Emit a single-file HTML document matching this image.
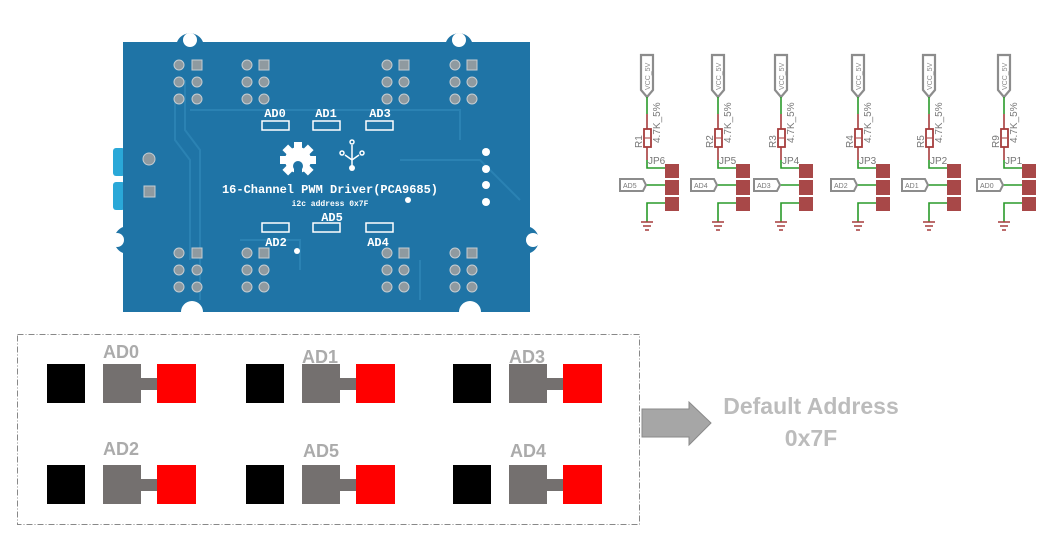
<!DOCTYPE html>
<html><head><meta charset="utf-8"><style>
html,body{margin:0;padding:0;background:#fff;}
body{width:1050px;height:538px;position:relative;overflow:hidden;font-family:"Liberation Sans",sans-serif;}
</style></head><body>
<svg width="1050" height="538" viewBox="0 0 1050 538" xmlns="http://www.w3.org/2000/svg" style="position:absolute;left:0;top:0">
<!-- PCB -->
<g>
  <rect x="113" y="148" width="12" height="28" rx="3" fill="#2aa8d8"/>
  <rect x="113" y="182" width="12" height="28" rx="3" fill="#2aa8d8"/>
  <path d="M123,42 H177 A14,14 0 0 1 203,42 H446 A14,14 0 0 1 472,42 H530 V227 A14,14 0 0 1 530,253 V312 H481 A11,11 0 0 0 459,312 H203 A11,11 0 0 0 181,312 H123 V253 A14,14 0 0 1 123,227 Z" fill="#1f74a6"/>
  <circle cx="190" cy="40" r="7" fill="#fff"/><circle cx="459" cy="40" r="7" fill="#fff"/>
  <circle cx="117" cy="240" r="7" fill="#fff"/><circle cx="533" cy="240" r="7" fill="#fff"/>
  <g fill="none" stroke="#2b82b3" stroke-width="2">
    <path d="M185,80 V130 L200,150 V300"/><path d="M190,110 H460 V140"/><path d="M175,100 V140 L190,160 V260"/>
    <path d="M400,160 H480 L520,200"/><path d="M240,240 H300 V270"/><path d="M420,260 V300"/>
  </g>
  <g fill="#8f9aa0" stroke="#c5cdd2" stroke-width="1">
    <circle cx="179" cy="65" r="5"/><rect x="192" y="60" width="10" height="10"/><circle cx="179" cy="82" r="5"/><circle cx="197" cy="82" r="5"/><circle cx="179" cy="99" r="5"/><circle cx="197" cy="99" r="5"/>
    <circle cx="247" cy="65" r="5"/><rect x="259" y="60" width="10" height="10"/><circle cx="247" cy="82" r="5"/><circle cx="264" cy="82" r="5"/><circle cx="247" cy="99" r="5"/><circle cx="264" cy="99" r="5"/>
    <circle cx="387" cy="65" r="5"/><rect x="399" y="60" width="10" height="10"/><circle cx="387" cy="82" r="5"/><circle cx="404" cy="82" r="5"/><circle cx="387" cy="99" r="5"/><circle cx="404" cy="99" r="5"/>
    <circle cx="455" cy="65" r="5"/><rect x="467" y="60" width="10" height="10"/><circle cx="455" cy="82" r="5"/><circle cx="472" cy="82" r="5"/><circle cx="455" cy="99" r="5"/><circle cx="472" cy="99" r="5"/>
    <circle cx="179" cy="253" r="5"/><rect x="192" y="248" width="10" height="10"/><circle cx="179" cy="270" r="5"/><circle cx="197" cy="270" r="5"/><circle cx="179" cy="287" r="5"/><circle cx="197" cy="287" r="5"/>
    <circle cx="247" cy="253" r="5"/><rect x="259" y="248" width="10" height="10"/><circle cx="247" cy="270" r="5"/><circle cx="264" cy="270" r="5"/><circle cx="247" cy="287" r="5"/><circle cx="264" cy="287" r="5"/>
    <circle cx="387" cy="253" r="5"/><rect x="399" y="248" width="10" height="10"/><circle cx="387" cy="270" r="5"/><circle cx="404" cy="270" r="5"/><circle cx="387" cy="287" r="5"/><circle cx="404" cy="287" r="5"/>
    <circle cx="455" cy="253" r="5"/><rect x="467" y="248" width="10" height="10"/><circle cx="455" cy="270" r="5"/><circle cx="472" cy="270" r="5"/><circle cx="455" cy="287" r="5"/><circle cx="472" cy="287" r="5"/>
    <circle cx="149" cy="159" r="6"/><rect x="144" y="186" width="11" height="11"/>
  </g>
  <g fill="#fff"><circle cx="486" cy="152" r="4"/><circle cx="486" cy="169" r="4"/><circle cx="486" cy="185" r="4"/><circle cx="486" cy="202" r="4"/><circle cx="297" cy="251" r="3"/><circle cx="408" cy="200" r="3"/></g>
  <g font-family="Liberation Mono,monospace" fill="#fff" font-weight="bold" text-anchor="middle">
    <text x="275" y="117" font-size="12">AD0</text><text x="326" y="117" font-size="12">AD1</text><text x="380" y="117" font-size="12">AD3</text>
    <text x="332" y="221" font-size="12">AD5</text><text x="276" y="246" font-size="12">AD2</text><text x="378" y="246" font-size="12">AD4</text>
    <text x="330" y="193" font-size="12">16-Channel PWM Driver(PCA9685)</text>
    <text x="330" y="206" font-size="8">i2c address 0x7F</text>
  </g>
  <g fill="none" stroke="#fff" stroke-width="1.5">
    <rect x="262" y="121" width="27" height="9"/><rect x="313" y="121" width="27" height="9"/><rect x="366" y="121" width="27" height="9"/>
    <rect x="262" y="223" width="27" height="9"/><rect x="313" y="223" width="27" height="9"/><rect x="366" y="223" width="27" height="9"/>
  </g>
  <g fill="#fff">
    <circle cx="298" cy="160" r="13"/>
    <rect x="294" y="142" width="8" height="36"/><rect x="280" y="156" width="36" height="8"/>
    <rect x="294" y="142" width="8" height="36" transform="rotate(45 298 160)"/><rect x="294" y="142" width="8" height="36" transform="rotate(-45 298 160)"/>
    <circle cx="298" cy="166" r="5" fill="#1f74a6"/><rect x="294" y="166" width="8" height="12" fill="#1f74a6"/>
  </g>
  <g stroke="#fff" stroke-width="1.5" fill="none">
    <path d="M352,145 V168 M345,155 L352,160 L359,155"/><circle cx="352" cy="142" r="2"/><circle cx="342" cy="153" r="2"/><circle cx="362" cy="153" r="2"/>
  </g>
  <circle cx="352" cy="168" r="3" fill="#fff"/>
</g>

<!-- Schematic -->
<defs>
<g id="u">
  <path d="M-6,5 H6 V40 L0,47 L-6,40 Z" fill="#fff" stroke="#8c8c8c" stroke-width="2.2"/>
  <text transform="translate(3,40) rotate(-90)" font-size="7" fill="#888">VCC_5V</text>
  <path d="M0,47 V64" stroke="#2a9a2a" stroke-width="1.6"/>
  <path d="M0,64 V110" stroke="#a63c3c" stroke-width="1.6"/>
  <rect x="-3" y="79" width="7" height="18" fill="#fff" stroke="#a63c3c" stroke-width="1.8"/>
  <path d="M-2,88 H3" stroke="#a63c3c"/>
  <path d="M0,110 V118 H18" stroke="#2a9a2a" stroke-width="1.6" fill="none"/>
  <rect x="18" y="114" width="14" height="14" fill="#a84848"/>
  <rect x="18" y="130" width="14" height="15" fill="#a84848"/>
  <rect x="18" y="147" width="14" height="14" fill="#a84848"/>
  <path d="M-2,135 H18" stroke="#2a9a2a" stroke-width="1.6"/>
  <path d="M18,153 H0 V172" stroke="#2a9a2a" stroke-width="1.6" fill="none"/>
  <path d="M-6,172 H6 M-4,176 H4 M-2,180 H2" stroke="#a63c3c" stroke-width="1.5"/>
</g>
</defs>
<g font-family="Liberation Sans,sans-serif">
<g transform="translate(647,50)"><use href="#u"/><path d="M-27,129 H-4 L-1,135 L-4,141 H-27 Z" fill="#fff" stroke="#8c8c8c" stroke-width="2"/><text x="-24" y="138" font-size="7" fill="#777">AD5</text><text x="1" y="114" font-size="10" fill="#777">JP6</text><text transform="translate(-5,98) rotate(-90)" font-size="10" fill="#777">R1</text><text transform="translate(13,93) rotate(-90)" font-size="10" fill="#777">4.7K_5%</text></g>
<g transform="translate(718,50)"><use href="#u"/><path d="M-27,129 H-4 L-1,135 L-4,141 H-27 Z" fill="#fff" stroke="#8c8c8c" stroke-width="2"/><text x="-24" y="138" font-size="7" fill="#777">AD4</text><text x="1" y="114" font-size="10" fill="#777">JP5</text><text transform="translate(-5,98) rotate(-90)" font-size="10" fill="#777">R2</text><text transform="translate(13,93) rotate(-90)" font-size="10" fill="#777">4.7K_5%</text></g>
<g transform="translate(781,50)"><use href="#u"/><path d="M-27,129 H-4 L-1,135 L-4,141 H-27 Z" fill="#fff" stroke="#8c8c8c" stroke-width="2"/><text x="-24" y="138" font-size="7" fill="#777">AD3</text><text x="1" y="114" font-size="10" fill="#777">JP4</text><text transform="translate(-5,98) rotate(-90)" font-size="10" fill="#777">R3</text><text transform="translate(13,93) rotate(-90)" font-size="10" fill="#777">4.7K_5%</text></g>
<g transform="translate(858,50)"><use href="#u"/><path d="M-27,129 H-4 L-1,135 L-4,141 H-27 Z" fill="#fff" stroke="#8c8c8c" stroke-width="2"/><text x="-24" y="138" font-size="7" fill="#777">AD2</text><text x="1" y="114" font-size="10" fill="#777">JP3</text><text transform="translate(-5,98) rotate(-90)" font-size="10" fill="#777">R4</text><text transform="translate(13,93) rotate(-90)" font-size="10" fill="#777">4.7K_5%</text></g>
<g transform="translate(929,50)"><use href="#u"/><path d="M-27,129 H-4 L-1,135 L-4,141 H-27 Z" fill="#fff" stroke="#8c8c8c" stroke-width="2"/><text x="-24" y="138" font-size="7" fill="#777">AD1</text><text x="1" y="114" font-size="10" fill="#777">JP2</text><text transform="translate(-5,98) rotate(-90)" font-size="10" fill="#777">R5</text><text transform="translate(13,93) rotate(-90)" font-size="10" fill="#777">4.7K_5%</text></g>
<g transform="translate(1004,50)"><use href="#u"/><path d="M-27,129 H-4 L-1,135 L-4,141 H-27 Z" fill="#fff" stroke="#8c8c8c" stroke-width="2"/><text x="-24" y="138" font-size="7" fill="#777">AD0</text><text x="1" y="114" font-size="10" fill="#777">JP1</text><text transform="translate(-5,98) rotate(-90)" font-size="10" fill="#777">R9</text><text transform="translate(13,93) rotate(-90)" font-size="10" fill="#777">4.7K_5%</text></g>
</g>

<!-- Jumper box -->
<rect x="17.5" y="334.5" width="622" height="190" fill="none" stroke="#888" stroke-width="1" stroke-dasharray="6,2,1,2"/>
<defs>
<g id="j">
  <rect x="0" y="0" width="38" height="39" fill="#000"/>
  <rect x="56" y="0" width="38" height="39" fill="#74706f"/>
  <rect x="94" y="14" width="16" height="12" fill="#74706f"/>
  <rect x="110" y="0" width="39" height="39" fill="#ff0000"/>
</g>
</defs>
<use href="#j" x="47" y="364"/><use href="#j" x="246" y="364"/><use href="#j" x="453" y="364"/>
<use href="#j" x="47" y="465"/><use href="#j" x="246" y="465"/><use href="#j" x="453" y="465"/>
<g font-family="Liberation Sans,sans-serif" font-weight="bold" font-size="18" fill="#ababab" text-anchor="middle">
  <text x="121" y="358">AD0</text><text x="320" y="363">AD1</text><text x="527" y="363">AD3</text>
  <text x="121" y="455">AD2</text><text x="321" y="457">AD5</text><text x="528" y="457">AD4</text>
</g>
<!-- arrow -->
<path d="M642,409 H689 V402 L711,423 L689,445 V437 H642 Z" fill="#a6a6a6" stroke="#8a8a8a" stroke-width="1"/>
<g font-family="Liberation Sans,sans-serif" font-weight="bold" font-size="23" fill="#bcbcbc" text-anchor="middle">
  <text x="811" y="414">Default Address</text><text x="811" y="446">0x7F</text>
</g>
</svg>
</body></html>
